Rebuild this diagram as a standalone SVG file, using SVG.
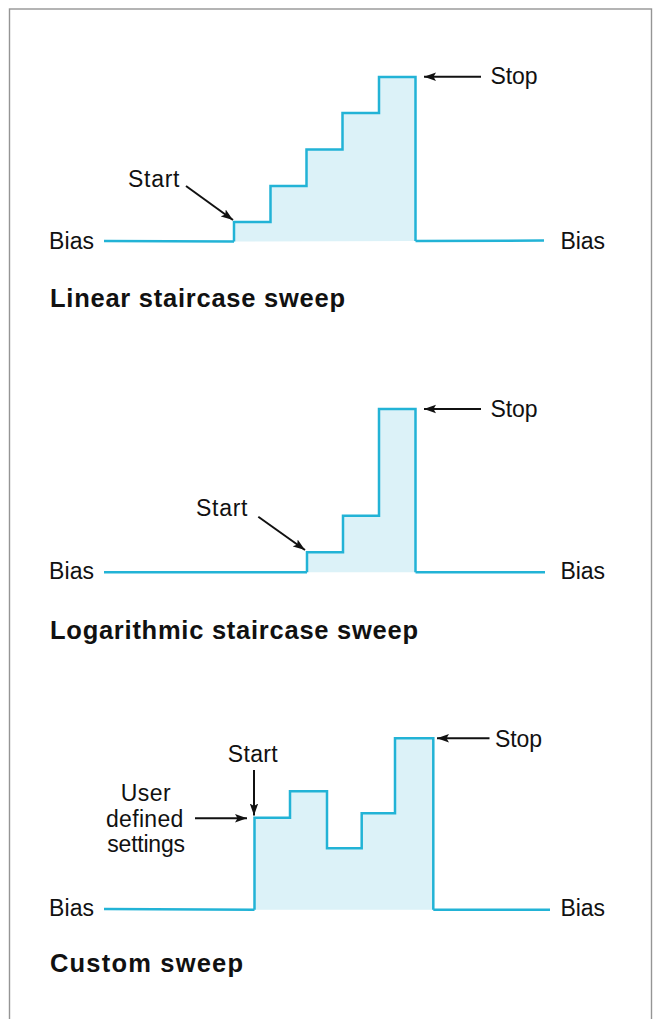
<svg xmlns="http://www.w3.org/2000/svg" width="654" height="1019" viewBox="0 0 654 1019">
  <style>
    .lbl { font-family: "Liberation Sans", Arial, sans-serif; font-size: 23px; fill: #111; }
    .ttl { font-family: "Liberation Sans", Arial, sans-serif; font-size: 25.5px; font-weight: bold; fill: #111; }
    .wave { fill: #dcf2f8; stroke: #22b3d6; stroke-width: 2.5; stroke-linejoin: miter; }
    .base { fill: none; stroke: #22b3d6; stroke-width: 2.5; }
    .arr { fill: none; stroke: #111; stroke-width: 2; marker-end: url(#ah); }
  </style>
  <defs>
    <marker id="ah" markerUnits="userSpaceOnUse" markerWidth="14" markerHeight="10" refX="12" refY="5" orient="auto">
      <path d="M0,0.8 L12,5 L0,9.2 L2.5,5 Z" fill="#111"/>
    </marker>
  </defs>
  <rect id="frame" x="9.5" y="9" width="642" height="1030" fill="#fff" stroke="#959595" stroke-width="1.4"/>

  <g id="linear-sweep">
    <path class="base" d="M104,241 L234,241.5"/>
    <path class="wave" d="M234,241.5 L234,222 L270.5,222 L270.5,186 L306.5,186 L306.5,149.5 L342.5,149.5 L342.5,113 L379,113 L379,77 L415.5,77 L415.5,241"/>
    <path class="base" d="M415.5,241 L544,240.5"/>
    <text class="lbl" x="49" y="248.5" textLength="45" lengthAdjust="spacing">Bias</text>
    <text class="lbl" x="560.5" y="248.5" textLength="44.5" lengthAdjust="spacing">Bias</text>
    <text class="lbl" x="128" y="187" textLength="51.5" lengthAdjust="spacing">Start</text>
    <text class="lbl" x="490.5" y="84" textLength="47" lengthAdjust="spacing">Stop</text>
    <text class="ttl" x="50" y="306.7" textLength="295" lengthAdjust="spacing">Linear staircase sweep</text>
  </g>

  <g id="log-sweep">
    <path class="base" d="M104,572.3 L307,572.3"/>
    <path class="wave" d="M307,572.3 L307,552.3 L343,552.3 L343,515.7 L379,515.7 L379,409 L415.5,409 L415.5,572.3"/>
    <path class="base" d="M415.5,572.3 L545,572.3"/>
    <text class="lbl" x="49" y="579" textLength="45" lengthAdjust="spacing">Bias</text>
    <text class="lbl" x="560.5" y="579" textLength="44.5" lengthAdjust="spacing">Bias</text>
    <text class="lbl" x="196" y="515.7" textLength="51.5" lengthAdjust="spacing">Start</text>
    <text class="lbl" x="490.5" y="417" textLength="47" lengthAdjust="spacing">Stop</text>
    <text class="ttl" x="50" y="639.3" textLength="368" lengthAdjust="spacing">Logarithmic staircase sweep</text>
  </g>

  <g id="custom-sweep">
    <path class="base" d="M104,909 L254.5,909.7"/>
    <path class="wave" d="M254.5,909.7 L254.5,817.7 L290,817.7 L290,791.3 L327,791.3 L327,848.3 L361.7,848.3 L361.7,813.3 L395,813.3 L395,738.3 L433.3,738.3 L433.3,909.7"/>
    <path class="base" d="M433.3,909.7 L550,909.7"/>
    <text class="lbl" x="49" y="915.5" textLength="45" lengthAdjust="spacing">Bias</text>
    <text class="lbl" x="560.5" y="915.5" textLength="44.5" lengthAdjust="spacing">Bias</text>
    <text class="lbl" x="227.7" y="761.7" textLength="50" lengthAdjust="spacing">Start</text>
    <text class="lbl" x="495" y="746.7" textLength="47" lengthAdjust="spacing">Stop</text>
    <text class="lbl" x="120.7" y="801" textLength="50" lengthAdjust="spacing">User</text>
    <text class="lbl" x="106" y="826.7" textLength="77.3" lengthAdjust="spacing">defined</text>
    <text class="lbl" x="107.3" y="851.5" textLength="77.7" lengthAdjust="spacing">settings</text>
    <text class="ttl" x="50" y="971.7" textLength="193" lengthAdjust="spacing">Custom sweep</text>
  </g>

  <g id="connectors">
    <line class="arr" x1="186" y1="186" x2="233" y2="220"/>
    <line class="arr" x1="481" y1="76.7" x2="424" y2="76.7"/>
    <line class="arr" x1="258.3" y1="516.7" x2="305" y2="550"/>
    <line class="arr" x1="481" y1="409" x2="424" y2="409"/>
    <line class="arr" x1="254" y1="770" x2="254" y2="815.5"/>
    <line class="arr" x1="195" y1="818.3" x2="247" y2="818.3"/>
    <line class="arr" x1="489.5" y1="738.3" x2="437" y2="738.3"/>
  </g>
</svg>
